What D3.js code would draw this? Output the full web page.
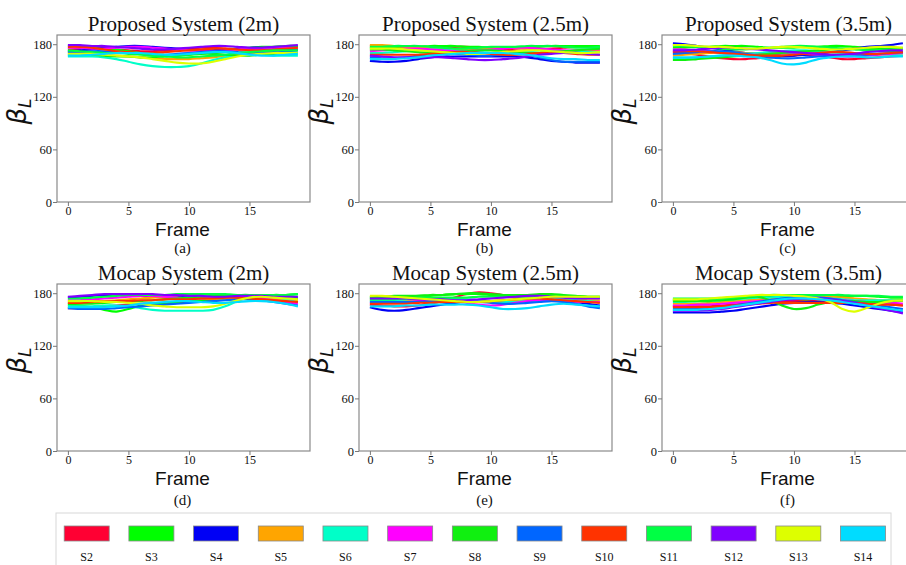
<!DOCTYPE html>
<html><head><meta charset="utf-8">
<script src="https://cdn.jsdelivr.net/npm/d3@7"></script>
<style>body{margin:0;background:#fff} svg{display:block}</style>
</head><body>
<svg id="chart" width="906" height="565"></svg>
<script>
const subjects = ["S2","S3","S4","S5","S6","S7","S8","S9","S10","S11","S12","S13","S14"];
const colors = ["#ff0033","#00ff00","#0000f5","#ffa500","#00ffc8","#ff00ff","#10f010","#0066ff","#ff3300","#00ff44","#8000ff","#ddff00","#00dcff"];
const frames = [0,1,2,3,4,5,6,7,8,9,10,11,12,13,14,15,16,17,18,19];
const xTicks = [0,5,10,15];
const yTicks = [0,60,120,180];
const titles = ["Proposed System (2m)","Proposed System (2.5m)","Proposed System (3.5m)","Mocap System (2m)","Mocap System (2.5m)","Mocap System (3.5m)"];
const captions = ["(a)","(b)","(c)","(d)","(e)","(f)"];

const proposed2m = [
 [174,175,176,175,174,173,172,172,173,174,175,176,176,175,174,174,175,176,177,177],
 [178,178,177,176,174,172,170,168,167,167,168,170,172,174,175,176,177,177,178,178],
 [172,173,174,176,177,178,178,177,176,175,174,173,173,174,175,176,176,175,174,174],
 [170,170,169,168,167,166,165,164,163,163,163,164,165,167,169,170,171,171,170,170],
 [166,166,166,165,163,160,157,155,154,154,155,158,162,165,167,168,168,167,167,167],
 [176,176,175,175,176,177,177,176,175,174,173,172,172,173,174,175,175,176,176,175],
 [168,168,168,167,166,166,165,165,166,167,168,169,169,168,167,167,168,169,170,170],
 [171,171,172,172,171,170,169,168,168,169,170,171,172,172,171,170,170,171,172,173],
 [177,177,176,174,172,171,170,170,171,172,173,174,175,175,174,173,173,174,175,176],
 [173,172,171,170,170,169,168,167,166,165,165,166,167,168,170,171,172,173,173,173],
 [179,179,178,178,177,176,175,174,174,175,176,177,178,178,177,176,176,177,178,179],
 [169,169,169,168,167,166,165,163,161,159,158,158,160,163,166,168,169,170,170,170],
 [167,167,168,169,170,170,170,169,168,168,169,170,171,171,170,168,167,167,168,169]
];
const proposed25m = [
 [178,178,177,176,175,175,176,177,177,176,175,174,173,173,174,175,176,177,177,176],
 [176,176,176,177,177,178,178,178,177,177,176,176,176,177,177,178,178,178,178,178],
 [161,160,160,161,163,165,166,166,166,166,166,166,166,165,163,161,160,159,159,159],
 [179,179,178,177,176,175,174,174,174,175,176,176,176,175,174,173,172,171,172,173],
 [170,170,171,172,173,174,174,173,172,171,170,170,171,172,173,173,172,171,171,171],
 [172,173,174,175,175,174,173,172,172,173,174,175,176,176,175,174,173,173,174,174],
 [174,174,173,172,171,170,170,171,172,173,173,172,171,170,170,171,172,173,174,175],
 [165,164,164,165,167,168,169,169,168,167,167,168,169,168,165,162,160,160,160,160],
 [168,168,168,168,168,169,170,171,171,170,169,168,168,169,170,171,170,169,168,168],
 [177,177,178,178,178,177,176,175,175,176,177,177,177,178,178,178,177,176,176,177],
 [167,166,165,165,165,165,165,164,163,162,162,163,164,166,168,169,170,170,169,168],
 [175,175,175,174,173,172,171,170,169,169,170,171,172,173,173,172,171,170,170,171],
 [163,163,163,164,165,167,168,169,170,170,170,170,169,168,166,164,163,163,162,162]
];
const proposed35m = [
 [171,170,168,166,164,163,163,164,165,166,167,168,167,165,163,163,164,165,166,167],
 [176,176,177,177,178,178,178,177,176,176,176,177,177,178,178,177,176,175,175,176],
 [181,180,178,176,174,172,170,169,168,167,167,168,169,171,173,175,177,178,179,181],
 [167,168,169,170,171,171,170,169,169,170,171,172,172,171,170,169,168,168,169,170],
 [164,164,165,166,167,168,169,170,171,172,173,173,172,171,170,170,170,169,168,167],
 [174,174,173,172,170,169,168,168,169,170,170,169,168,167,166,166,167,168,169,170],
 [162,162,163,164,165,166,167,168,169,170,171,172,173,174,175,175,174,173,172,171],
 [169,170,171,172,172,171,169,167,165,164,164,165,166,167,168,168,168,169,170,171],
 [172,172,172,171,170,169,168,167,167,167,168,169,170,171,171,170,169,169,170,171],
 [178,178,177,176,175,174,174,175,176,177,178,178,177,176,175,174,173,173,174,175],
 [173,173,174,175,176,176,175,174,173,172,171,170,169,168,168,169,171,172,173,173],
 [179,179,178,177,177,176,175,175,176,177,177,176,175,174,174,175,176,177,177,176],
 [165,165,165,166,167,167,166,165,162,158,157,159,163,165,166,166,165,165,166,166]
];
const mocap2m = [
 [163,163,164,165,166,167,168,168,168,169,170,171,172,173,174,174,173,172,171,170],
 [167,166,164,161,159,162,166,168,169,170,171,172,173,175,176,177,177,178,178,179],
 [175,176,177,178,178,178,177,177,176,176,175,175,175,176,177,177,176,175,175,175],
 [170,170,171,171,172,173,174,175,175,175,174,174,173,173,174,175,175,174,173,172],
 [165,165,165,166,166,165,163,161,160,160,160,160,161,165,171,176,177,176,173,169],
 [172,172,173,174,175,176,177,177,176,175,174,174,175,176,176,175,174,172,170,168],
 [168,168,168,169,170,171,171,172,173,174,175,176,177,178,178,178,177,176,175,174],
 [163,162,162,162,163,164,165,166,167,168,169,170,171,172,173,173,172,170,168,166],
 [169,169,170,170,171,171,172,172,173,173,173,174,174,175,175,174,173,172,171,170],
 [174,174,175,176,177,178,178,178,178,179,179,179,179,179,178,178,178,178,178,179],
 [176,177,178,179,179,179,179,179,178,178,177,177,176,176,177,177,177,176,176,176],
 [171,171,171,170,170,169,168,166,165,164,164,164,165,168,172,175,176,175,174,173],
 [164,164,164,164,165,166,168,169,170,171,171,170,169,169,170,171,171,170,168,165]
];
const mocap25m = [
 [167,166,165,165,166,168,171,175,179,181,180,178,175,173,172,172,171,170,170,170],
 [175,175,176,176,177,177,178,179,179,179,178,177,177,177,178,178,177,176,176,176],
 [164,161,160,161,163,165,167,169,170,170,170,170,171,172,173,173,172,170,168,166],
 [172,172,171,171,171,172,173,173,172,171,170,170,171,172,173,174,174,173,172,172],
 [171,171,172,173,173,174,174,174,173,172,171,170,170,171,172,173,173,172,171,170],
 [169,169,169,170,171,172,172,171,169,167,166,167,169,171,172,172,171,170,170,170],
 [176,176,177,177,177,178,178,179,180,180,179,178,178,178,179,179,178,177,176,176],
 [170,170,170,170,170,171,171,171,170,170,169,168,168,169,170,171,170,168,165,163],
 [168,168,168,168,169,169,170,170,170,170,171,172,173,174,174,173,172,171,170,169],
 [173,173,173,174,175,175,175,175,175,176,176,176,176,176,176,176,176,175,175,175],
 [174,174,174,174,173,173,173,172,172,173,174,175,176,177,177,176,175,174,174,174],
 [177,177,176,175,174,173,172,171,170,170,171,172,173,174,175,176,176,176,176,176],
 [165,165,165,166,166,167,167,167,167,166,164,162,162,163,165,167,168,167,166,165]
];
const mocap35m = [
 [165,165,165,165,166,167,168,169,170,171,171,171,171,171,170,170,169,168,167,166],
 [172,173,173,173,174,175,176,177,177,176,174,173,174,175,176,177,177,176,175,175],
 [158,158,158,158,159,160,162,164,166,168,169,170,170,169,168,166,164,162,160,158],
 [168,168,168,169,170,171,172,173,174,175,175,176,176,176,175,174,173,172,172,171],
 [170,170,171,171,172,173,174,175,175,176,176,176,175,174,173,172,172,172,172,172],
 [166,166,167,167,168,169,170,171,172,173,174,174,174,173,172,171,170,169,169,168],
 [171,171,171,171,172,173,175,176,172,166,162,163,167,170,171,171,170,170,171,172],
 [162,162,162,163,164,166,168,170,172,174,175,175,175,174,172,170,168,166,164,162],
 [164,164,164,164,165,166,167,168,169,169,169,169,169,169,169,169,168,167,167,166],
 [174,174,174,174,174,175,176,177,178,178,178,178,178,178,178,177,177,177,176,176],
 [160,160,160,161,162,164,166,168,170,172,173,174,174,173,171,169,166,163,160,157],
 [173,173,173,174,175,176,177,178,178,178,177,176,174,170,162,159,163,168,171,172],
 [161,161,161,162,163,165,167,169,171,173,174,174,173,172,170,168,166,164,162,160]
];
const panelData = [proposed2m, proposed25m, proposed35m, mocap2m, mocap25m, mocap35m];

const svg = d3.select("#chart");
const colLeft = [57, 359, 662];
const rowTop = [35, 284];
const pw = 253, ph = 167;
const serif = "'Liberation Serif','Times New Roman',serif";

panelData.forEach((data, i) => {
  const left = colLeft[i % 3], top = rowTop[Math.floor(i / 3)];
  const g = svg.append("g").attr("transform", `translate(${left},${top})`);
  const x = d3.scaleLinear().domain([-0.9, 20]).range([0, pw]);
  const y = d3.scaleLinear().domain([0, 190.5]).range([ph, 0]);

  const line = d3.line().x((d, j) => x(frames[j])).y(d => y(d)).curve(d3.curveCatmullRom);
  g.append("g").selectAll("path").data(data).join("path")
    .attr("d", d => line(d))
    .attr("fill", "none")
    .attr("stroke", (d, k) => colors[k])
    .attr("stroke-width", 2.1);

  g.append("rect").attr("width", pw).attr("height", ph)
    .attr("fill", "none").attr("stroke", "#8a8a8a").attr("stroke-width", 1.2);

  const ya = g.append("g").call(d3.axisLeft(y).tickValues(yTicks).tickSize(4).tickPadding(1).tickFormat(d3.format("d")));
  const xa = g.append("g").attr("transform", `translate(0,${ph})`)
    .call(d3.axisBottom(x).tickValues(xTicks).tickSize(4).tickPadding(0).tickFormat(d3.format("d")));
  [ya, xa].forEach(a => {
    a.select(".domain").remove();
    a.selectAll(".tick line").attr("stroke", "#777");
    a.selectAll("text").attr("font-family", serif).attr("font-size", 12.5).attr("fill", "#111");
  });
  xa.selectAll("text").attr("font-size", 12);

  g.append("text").attr("x", pw / 2).attr("y", -4).attr("text-anchor", "middle")
    .attr("font-family", serif).attr("font-size", 21).attr("fill", "#111").text(titles[i]);

  g.append("text").attr("x", pw / 2 - 1).attr("y", ph + 33.5).attr("text-anchor", "middle")
    .attr("font-family", "'Liberation Sans',Arial,sans-serif").attr("font-size", 19).attr("fill", "#111").text("Frame");

  g.append("text").attr("x", pw / 2 - 1).attr("y", ph + 51 + (i >= 3 ? 3 : 0)).attr("text-anchor", "middle")
    .attr("font-family", serif).attr("font-size", 15).attr("fill", "#111").text(captions[i]);

  const yl = g.append("text").attr("transform", `translate(-31,${ph / 2 - 7}) rotate(-90)`)
    .attr("text-anchor", "middle").attr("font-family", "'DejaVu Sans',sans-serif")
    .attr("font-style", "italic").attr("fill", "#111");
  yl.append("tspan").attr("font-size", 26).text("β");
  yl.append("tspan").attr("font-size", 17).attr("dy", 5).text("L");
});

// Legend
const lg = svg.append("g");
lg.append("rect").attr("x", 56).attr("y", 513).attr("width", 835).attr("height", 70)
  .attr("fill", "#fff").attr("stroke", "#d8d8d8").attr("stroke-width", 1);
const lx = d3.scalePoint().domain(subjects).range([86.7, 863]);
const items = lg.selectAll("g.item").data(subjects).join("g").attr("class", "item")
  .attr("transform", d => `translate(${lx(d)},0)`);
items.append("rect").attr("x", -22.5).attr("y", 526).attr("width", 45).attr("height", 15)
  .attr("fill", (d, k) => colors[k]).attr("stroke", "#888").attr("stroke-width", 0.8);
items.append("text").attr("y", 561).attr("text-anchor", "middle")
  .attr("font-family", serif).attr("font-size", 12).attr("fill", "#111").text(d => d);
</script>
</body></html>
